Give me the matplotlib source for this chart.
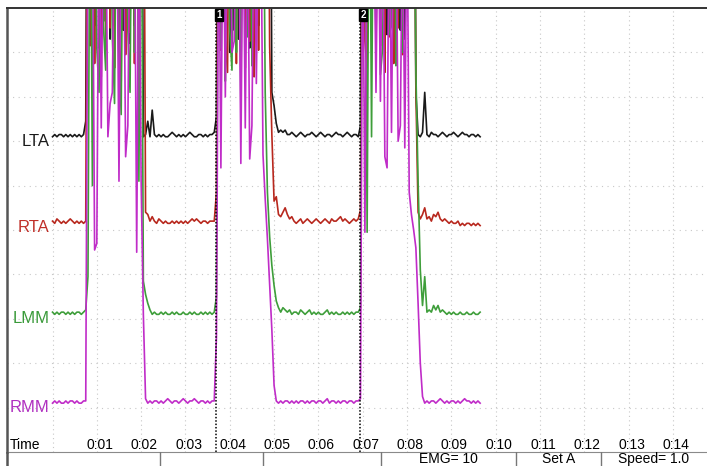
import matplotlib.pyplot as plt
import numpy as np

plt.rcParams["font.family"] = ["Liberation Sans", "DejaVu Sans"]

# EMG envelopes, 20 samples per second from 0:00, amplitude in 1/20 division
dt = 0.05
S = 230  # saturated sample, runs off the top of the trace window

lta = [0, 1, 0, 1, 1, 0, 1, 0, 1, 0,
       1, 0, 1, 0, 1, 7, S, 45, S, 50,
       S, 40, S, 52, S, S, 44, S, 50, S,
       38, S, 48, S, S, 42, S, 50, S, 46,
       S, 0, 1, 7, 0, 12, 1, 0, 1, 0,
       1, 0, 0, 1, 2, 1, 0, 1, 0, 1,
       0, 1, 2, 1, 0, 0, 1, 1, 0, 1,
       0, 1, 1, 2, 9, S, 42, S, 50, S,
       38, S, 48, S, 44, S, S, 52, S, 40,
       S, 46, S, 50, S, S, S, S, S, 20,
       14, 6, 2, 3, 2, 3, 1, 1, 2, 1,
       0, 1, 2, 1, 0, 1, 1, 2, 1, 0,
       1, 2, 1, 0, 1, 1, 0, 1, 2, 1,
       1, 0, 1, 2, 1, 0, 1, 1, 0, 5,
       S, S, 44, S, 50, S, 40, S, 48, S,
       S, 46, S, 52, S, 38, S, 48, S, 44,
       S, S, S, S, 20, 1, 0, 2, 20, 1,
       0, 2, 1, 1, 0, 1, 2, 1, 0, 1,
       1, 2, 1, 0, 1, 2, 1, 1, 0, 1,
       1, 0, 1, 0]

rta = [1, 0, 2, 1, 0, 1, 0, 1, 2, 1,
       0, 1, 0, 1, 0, 1, S, 80, S, 72,
       S, 85, 66, S, 78, S, 88, S, 70, S,
       82, 64, S, 76, S, 86, S, 72, S, 80,
       S, S, 5, 4, 1, 3, 1, 0, 2, 1,
       0, 1, 0, 0, 1, 0, 1, 0, 1, 0,
       1, 0, 1, 2, 1, 2, 1, 0, 1, 1,
       0, 1, 1, 1, 14, S, 78, S, 84, 68,
       S, 80, S, 72, S, 88, S, 70, S, 82,
       S, 66, S, 78, S, S, S, S, 80, 40,
       10, 12, 4, 3, 5, 7, 4, 2, 3, 1,
       0, 1, 2, 0, 1, 2, 1, 0, 1, 2,
       1, 0, 1, 2, 1, 0, 2, 1, 1, 2,
       3, 1, 2, 1, 0, 1, 2, 1, 2, 6,
       S, 82, 70, S, 86, S, 74, S, 80, S,
       68, S, 84, S, 72, S, 88, S, 76, S,
       S, S, S, S, 60, 5, 2, 4, 7, 2,
       3, 1, 4, 3, 5, 2, 1, 2, 1, 0,
       1, 0, 0, 1, -1, 0, -1, 0, 0, -1,
       0, -1, 0, -1]

lmm = [1, 0, 1, 0, 1, 1, 0, 1, 0, 1,
       0, 1, 1, 0, 1, 2, 17, S, 58, S,
       120, 100, S, 130, 110, S, S, 125, 95, S,
       115, 90, S, S, 128, 100, S, 118, S, 60,
       S, 15, 9, 5, 2, 0, 1, 0, 0, 1,
       0, 1, 0, 0, 1, 0, 1, 0, 0, 1,
       0, 0, 1, 0, 1, 0, 0, 1, 0, 1,
       0, 1, 0, 1, 8, S, 120, S, 105, S,
       128, 110, S, 118, S, 95, S, S, 125, S,
       112, S, 130, S, S, S, 100, 55, 35, 22,
       13, 6, 3, 1, 3, 2, 1, 2, 0, 1,
       1, 0, 2, 1, 0, 1, 2, 0, 1, 0,
       1, 0, 0, 1, 2, 0, 1, 0, 1, 0,
       0, 1, 0, 1, 0, 1, 0, 1, 1, 3,
       S, S, 37, S, 80, S, 122, S, 108, 120,
       S, S, 126, 130, S, 112, S, S, 118, S,
       S, S, S, S, 110, 60, 20, 4, 17, 1,
       2, 1, 4, 2, 4, 1, 2, 1, 0, 1,
       0, 1, 0, 0, 1, 0, 0, 1, 0, 0,
       1, 0, 0, 1]

rmm = [0, 1, 0, 1, 0, 0, 1, 0, 1, 1,
       0, 1, 0, 0, 1, 1, S, S, S, 69,
       72, S, 124, S, S, 120, 135, 140, S, S,
       100, S, S, 111, 125, S, S, S, 68, S,
       100, 40, 2, 0, 1, 0, 1, 1, 0, 1,
       0, 1, 2, 1, 0, 1, 1, 0, 1, 2,
       1, 0, 1, 1, 2, 1, 0, 1, 1, 0,
       1, 0, 1, 1, 30, S, 106, S, 138, S,
       S, 158, 163, S, S, 108, S, 124, S, 110,
       125, S, 144, S, S, 112, 92, 74, 53, 33,
       8, 1, 0, 1, 0, 1, 1, 0, 1, 0,
       1, 0, 1, 1, 0, 1, 0, 1, 1, 0,
       1, 1, 0, 1, 2, 0, 1, 1, 0, 1,
       0, 1, 1, 0, 1, 1, 0, 1, 1, 2,
       S, 77, S, S, S, S, 140, S, 136, S,
       111, 106, S, 122, S, S, 118, 125, S, 115,
       S, 95, 85, 78, 70, 45, 18, 3, 0, 1,
       0, 1, 1, 0, 1, 2, 1, 0, 1, 0,
       1, 1, 0, 1, 0, 1, 2, 1, 1, 0,
       1, 0, 1, 0]

channels = ["LTA", "RTA", "LMM", "RMM"]
time_labels = ["0:01", "0:02", "0:03", "0:04", "0:05", "0:06", "0:07",
               "0:08", "0:09", "0:10", "0:11", "0:12", "0:13", "0:14"]
markers = [("1", 3.69), ("2", 6.94)]
status = ["", "", "", "EMG= 10", "Set A", "Speed= 1.0"]

traces = [lta, rta, lmm, rmm]
offsets = [142, 103, 62, 22]
line_colors = ["#1a1a1a", "#b8281e", "#3e9e3a", "#c02cc8"]
label_colors = ["#1a1a1a", "#c0302a", "#3a9a3a", "#b030c0"]

fig = plt.figure(figsize=(7.07, 4.66), dpi=100)
ax = fig.add_axes([7 / 707, 14 / 466, 700 / 707, 444 / 466])
ax.set_xlim(-1.027, 14.77)
ax.set_ylim(0, 200)

# dotted division grid
for s in range(15):
    ax.axvline(s, color="#c8c8c8", lw=0.8, ls=(0, (1, 3)), zorder=0)
for v in range(20, 200, 20):
    ax.axhline(v, color="#c8c8c8", lw=0.8, ls=(0, (1, 4)), zorder=0)

for name, trace, off, lc, tc in zip(channels, traces, offsets, line_colors, label_colors):
    t = np.arange(len(trace)) * dt
    ax.plot(t, np.array(trace) + off, color=lc, lw=1.2)
    ax.text(-0.06, off - 2, name, color=tc, fontsize=12, ha="right", va="center")

for label, pos in markers:
    ax.axvline(pos, color="black", lw=1.1, ls=(0, (1, 1.2)))
    ax.text(pos + 0.07, 199, label, color="white", fontsize=7, fontweight="bold",
            ha="center", va="top",
            bbox=dict(boxstyle="square,pad=0.1", fc="black", ec="black"))

ax.text(-0.96, 3.2, "Time", fontsize=10, ha="left", va="center")
for i, lab in enumerate(time_labels):
    ax.text(i + 1.07, 3.2, lab, fontsize=10, ha="center", va="center")

ax.set_xticks([])
ax.set_yticks([])
ax.spines["right"].set_visible(False)
ax.spines["bottom"].set_color("#8a8a8a")
ax.spines["left"].set_color("#555555")
ax.spines["left"].set_linewidth(1.8)
ax.spines["top"].set_color("#333333")
ax.spines["top"].set_linewidth(1.4)

# status bar under the trace window
bar = fig.add_axes([0, 0, 1, 14 / 466])
bar.set_xlim(0, 707)
bar.set_ylim(0, 14)
bar.axis("off")
edges = [7, 160, 263, 381, 516, 601, 707]
for x in edges[1:-1]:
    bar.axvline(x, color="#777777", lw=1.0)
bar.axvline(7, color="#555555", lw=1.8)
for text, a, b in zip(status, edges[:-1], edges[1:]):
    bar.text((a + b) / 2, 3.2, text, fontsize=10, ha="center", va="baseline")

fig.savefig("out.png", dpi=100)
